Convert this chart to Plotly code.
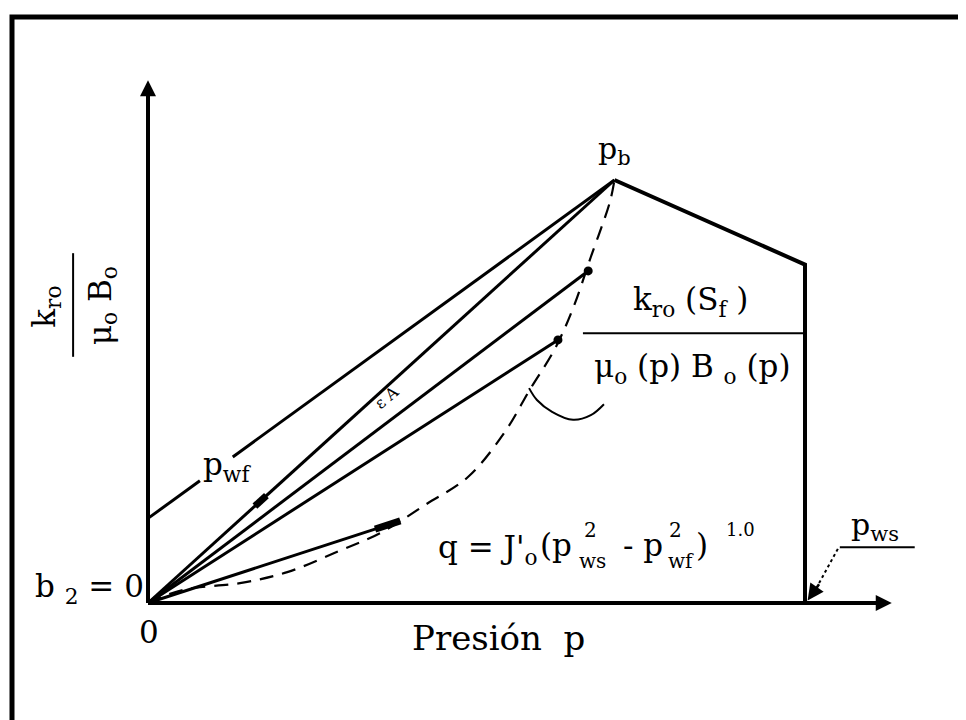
import plotly.graph_objects as go

# ---- data (pressure p, value k_ro/(mu_o B_o)) ----
p_curve = [0, 5.3, 14.0, 21.2, 28.8, 35.3, 42.2, 48.7, 54.3, 58.1, 61.9, 64.7, 67.4, 70.3, 71.0]
y_curve = [0, 3.1, 4.7, 7.3, 12.1, 16.5, 23.2, 29.8, 40.4, 50.4, 60.0, 69.7, 81.8, 94.8, 100.0]

p_b, y_b = 71.0, 100.0
p_ws, y_ws = 100.0, 80.0
b_intercept = 20.0
label_gap = [7.9, 12.9]          # break in the tangent line for the p_wf label

p_chord = [71.0, 67.0, 62.4, 38.4]
y_chord = [100.0, 78.5, 62.2, 19.4]
p_wf_mark = 17.5

p_curl = [58.0, 59.2, 61.5, 64.7, 67.4, 69.4]
y_curl = [50.8, 48.0, 45.2, 43.3, 44.4, 47.0]

x_axis_end = 113.2
y_axis_end = 123.6

# pixel mapping of the original drawing (page body adds an 8 px offset)
px_per_x, px_per_y = 6.57, 4.23
x0_px, y0_px = 140, 595
W, H = 966, 720
xr = [-x0_px / px_per_x, (W - x0_px) / px_per_x]
yr = [(y0_px - H) / px_per_y, y0_px / px_per_y]

BLACK = "#000000"
FONT = "DejaVu Serif"

fig = go.Figure()

def line(x, y, w=3, dash=None, shape="linear"):
    fig.add_trace(go.Scatter(x=x, y=y, mode="lines",
                             line=dict(color=BLACK, width=w, dash=dash, shape=shape),
                             hoverinfo="skip"))

# dashed curve k_ro/(mu B) below p_b
line(p_curve, y_curve, w=2.2, dash="14px,9px", shape="spline")

# chords from origin
for pc, yc in zip(p_chord, y_chord):
    line([0, pc], [0, yc], w=3)

# chord end markers (dots)
fig.add_trace(go.Scatter(x=p_chord[1:3], y=y_chord[1:3], mode="markers",
                         marker=dict(color=BLACK, size=9, symbol="circle",
                                     line=dict(width=0)), hoverinfo="skip"))
# thick arrow-like marks along chords
line([0.9 * p_chord[3], p_chord[3]], [0.9 * y_chord[3], y_chord[3]], w=7)
y_wf_mark = p_wf_mark * y_b / p_b
line([0.93 * p_wf_mark, 1.03 * p_wf_mark], [0.93 * y_wf_mark, 1.03 * y_wf_mark], w=7)

# tangent line with intercept b
slope = (y_b - b_intercept) / p_b
line([0, label_gap[0], None, label_gap[1], p_b],
     [b_intercept, b_intercept + slope * label_gap[0], None,
      b_intercept + slope * label_gap[1], y_b], w=3)

# above bubble point: p_b -> p_ws -> down to axis
line([p_b, p_ws, p_ws], [y_b, y_ws, 0], w=4)

# curly pointer
line(p_curl, y_curl, w=2, shape="spline")

# axes
line([0, x_axis_end - 3], [0, 0], w=4)
line([0, 0], [0, y_axis_end - 6], w=4)

# p_ws pointer (dotted part) and underline
line([105.0, 102.0], [12.8, 4.3], w=2, dash="3px,3px")
line([105.3, 116.7], [13.2, 13.2], w=2)
# fraction bar on right
line([66.2, p_ws], [63.8, 63.8], w=2)
# y-label fraction bar
line([-11.4, -11.4], [58.2, 82.7], w=2)

ann = []
def arrow(x, y, ax, ay, w=4, size=1.2, head=2):
    ann.append(dict(x=x, y=y, ax=ax, ay=ay, xref="x", yref="y", axref="x", ayref="y",
                    showarrow=True, arrowhead=head, arrowsize=size, arrowwidth=w,
                    arrowcolor=BLACK, text=""))

arrow(x_axis_end, 0, x_axis_end - 8, 0, w=4, size=0.8)
arrow(0, y_axis_end, 0, y_axis_end - 12, w=4, size=0.8)
arrow(100.4, 0.6, 102.3, 4.8, w=2.5, size=1.3)

def txt(x, y, s, size=31, angle=0, xanchor="center"):
    ann.append(dict(x=x, y=y, xref="x", yref="y", text=s, showarrow=False,
                    textangle=angle, xanchor=xanchor,
                    font=dict(family=FONT, size=size, color=BLACK)))

txt(71.0, 107.0, "p<sub>b</sub>", size=30)
txt(12.0, 32.3, "p<sub>wf</sub>", size=31)
txt(36.3, 48.6, "ε A", size=16, angle=-40)
txt(82.5, 71.2, "k<sub>ro</sub> (S<sub>f</sub> )", size=31)
txt(82.8, 55.4, "μ<sub>o</sub> (p) B <sub>o</sub> (p)", size=31)

# formula q = J'o (p^2_ws - p^2_wf)^1.0 built from pieces
txt(43.8, 12.6, "q = J'<sub>o</sub>", size=31, xanchor="left")
txt(59.3, 13.6, "(p", size=31, xanchor="left")
txt(65.3, 9.9, "ws", size=20, xanchor="left")
txt(67.4, 17.3, "2", size=20)
txt(72.0, 13.6, "- p", size=31, xanchor="left")
txt(78.9, 9.9, "wf", size=20, xanchor="left")
txt(80.3, 17.3, "2", size=20)
txt(83.1, 13.6, ")", size=31, xanchor="left")
txt(87.6, 17.3, "1.0", size=18, xanchor="left")

txt(110.6, 18.0, "p<sub>ws</sub>", size=30)
txt(-0.3, 3.4, "b <sub>2</sub> = 0", size=31, xanchor="right")
txt(0.2, -6.8, "0", size=31)
txt(53.3, -8.2, "Presión  p", size=34)
txt(-15.4, 70.0, "k<sub>ro</sub>", size=31, angle=-90)
txt(-7.0, 70.2, "μ<sub>o</sub> B<sub>o</sub>", size=31, angle=-90)

fig.update_layout(
    width=W, height=H, margin=dict(l=0, r=0, t=0, b=0),
    paper_bgcolor="white", plot_bgcolor="white", showlegend=False,
    xaxis=dict(range=xr, visible=False, fixedrange=True),
    yaxis=dict(range=yr, visible=False, fixedrange=True),
    annotations=ann,
    shapes=[dict(type="rect", xref="paper", yref="paper",
                 x0=4 / W, x1=1.05, y0=-0.05, y1=1 - 9 / H,
                 line=dict(color=BLACK, width=5))],
)

fig.write_html("out.html")
